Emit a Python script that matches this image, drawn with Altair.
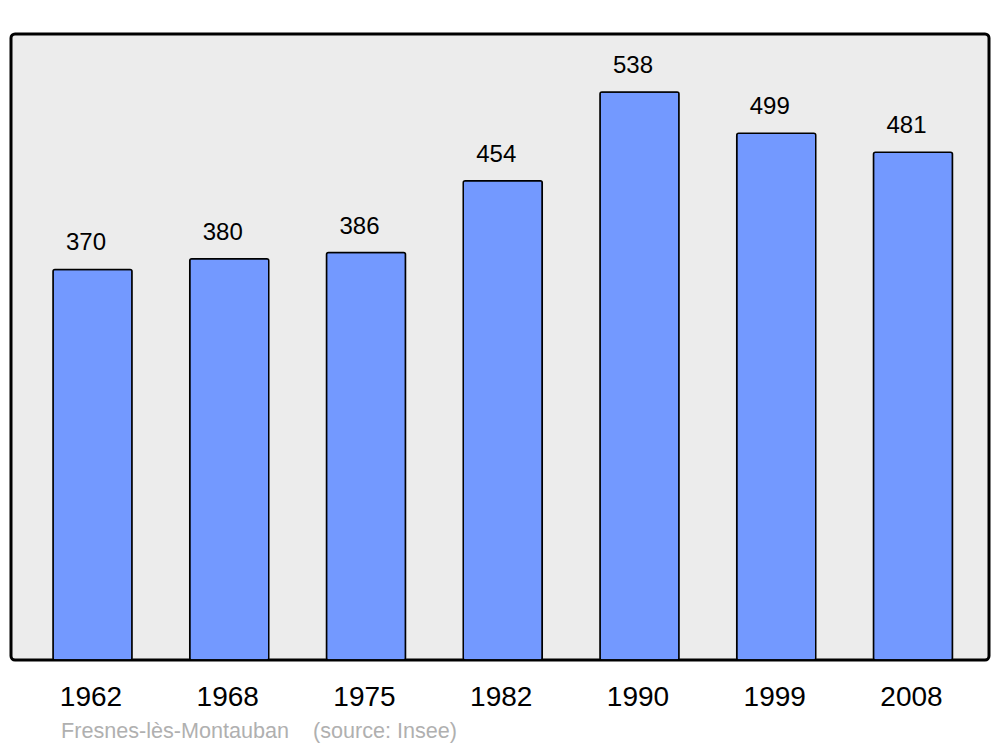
import altair as alt
import pandas as pd

years = ["1962", "1968", "1975", "1982", "1990", "1999", "2008"]
population = [370, 380, 386, 454, 538, 499, 481]
place = "Fresnes-lès-Montauban"
source = "(source: Insee)"
caption = place + "\u00a0\u00a0\u00a0\u00a0" + source

df = pd.DataFrame({"year": years, "pop": population})

x = alt.X("year:N", sort=years, title=None,
          scale=alt.Scale(paddingInner=0.422, paddingOuter=0.287, align=0.535),
          axis=alt.Axis(labelAngle=0, labelFontSize=28, labelFont="Liberation Sans",
                        labelColor="black", labelBaseline="alphabetic", labelPadding=45,
                        labelOffset=-1.5,
                        ticks=False, tickSize=0, domain=False, grid=False))
y = alt.Y("pop:Q", title=None, scale=alt.Scale(domain=[0, 593], nice=False, zero=True),
          axis=None)

base = alt.Chart(df)

bars = base.mark_bar(color="#7399ff", stroke="black", strokeWidth=1.5,
                     cornerRadius=2).encode(x=x, y=y)

labels = base.mark_text(fontSize=24, font="Liberation Sans", color="black",
                        baseline="alphabetic", dy=-19, dx=-6.5).encode(
    x=alt.X("year:N", sort=years), y="pop:Q", text="pop:Q")

cap = alt.Chart(pd.DataFrame({"t": [caption]})).mark_text(
    fontSize=21.6, font="Liberation Sans", color="#b0b0b0", align="left",
    baseline="alphabetic", clip=False).encode(
    x=alt.value(50), y=alt.value(703.5), text="t:N")

chart = alt.layer(bars, labels, cap).properties(
    width=978, height=626,
    padding={"left": 3, "top": 26, "right": 3, "bottom": 84},
    autosize=alt.AutoSizeParams(type="none"),
    background="white",
).configure_view(
    fill="#ececec", stroke="black", strokeWidth=3, cornerRadius=4
)

chart.save("out.html", embed_options={"renderer": "svg", "actions": False})
